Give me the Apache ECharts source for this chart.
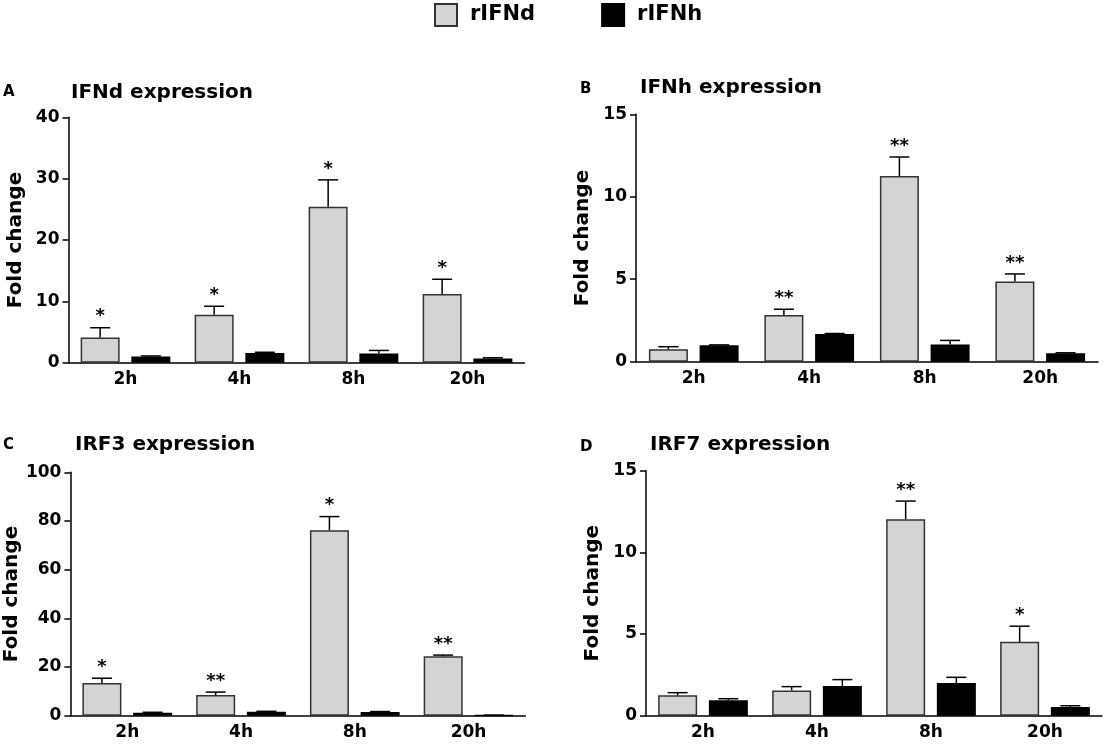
<!DOCTYPE html>
<html>
<head>
<meta charset="utf-8">
<script src="https://cdn.jsdelivr.net/npm/echarts@6/dist/echarts.min.js"></script>
<style>
  html, body { margin: 0; padding: 0; background: #fff; }
  #main { width: 1106px; height: 745px; }
</style>
</head>
<body>
<div id="main"></div>
<script>
// time points
var hours = ['2h', '4h', '8h', '20h'];

// A - IFNd
var ifnd_d = [4.1, 7.8, 25.4, 11.2];
var ifnd_d_sem = [1.6, 1.4, 4.4, 2.4];
var ifnd_h = [1.0, 1.6, 1.5, 0.7];
var ifnd_h_sem = [0.1, 0.1, 0.5, 0.1];
var ifnd_star = ['*', '*', '*', '*'];

// B - IFNh
var ifnh_d = [0.75, 2.83, 11.26, 4.86];
var ifnh_d_sem = [0.16, 0.35, 1.15, 0.46];
var ifnh_h = [0.99, 1.68, 1.05, 0.51];
var ifnh_h_sem = [0.03, 0.03, 0.24, 0.03];
var ifnh_star = ['', '**', '**', '**'];

// C - IRF3
var irf3_d = [13.4, 8.5, 76.2, 24.4];
var irf3_d_sem = [2.0, 1.2, 5.6, 0.5];
var irf3_h = [1.2, 1.6, 1.5, 0.2];
var irf3_h_sem = [0.2, 0.2, 0.2, 0.05];
var irf3_star = ['*', '**', '*', '**'];

// D - IRF7
var irf7_d = [1.25, 1.55, 12.03, 4.52];
var irf7_d_sem = [0.16, 0.23, 1.11, 0.96];
var irf7_h = [0.94, 1.82, 2.0, 0.53];
var irf7_h_sem = [0.1, 0.39, 0.35, 0.08];
var irf7_star = ['', '', '**', '*'];

// y axis ranges
var yMax = [40, 15, 100, 15];
var yStep = [10, 5, 20, 5];

var FONT = 'DejaVu Sans, Verdana, sans-serif';
var BAR_W = 39;
var GAP = 0.3;
var HALF = BAR_W * (1 + GAP) / 2; // 类目中心到柱中心的距离

var chart = echarts.init(document.getElementById('main'));

var grids = [
    {left: 68.5, top: 117.3, width: 456, height: 245.4},
    {left: 636, top: 114.3, width: 462, height: 247.4},
    {left: 70.4, top: 472.3, width: 455, height: 243.4},
    {left: 646, top: 470.7, width: 456, height: 245}
];
grids.forEach(function (g) { g.outerBoundsMode = 'none'; g.containLabel = false; });

var xAxes = [], yAxes = [];
for (var i = 0; i < 4; i++) {
    xAxes.push({
        type: 'category', gridIndex: i, data: hours,
        axisLine: {lineStyle: {color: '#000', width: 1.5}},
        axisTick: {alignWithLabel: true, length: 5, lineStyle: {color: '#000', width: 1.5}},
        axisLabel: {color: '#000', fontFamily: FONT, fontWeight: 'bold', fontSize: 17, margin: 8}
    });
    yAxes.push({
        type: 'value', gridIndex: i, min: 0, max: yMax[i], interval: yStep[i],
        name: 'Fold change', nameLocation: 'middle', nameRotate: 90, nameGap: 43,
        nameTextStyle: {color: '#000', fontFamily: FONT, fontWeight: 'bold', fontSize: 20},
        splitLine: {show: false},
        axisLine: {show: true, lineStyle: {color: '#000', width: 1.5}},
        axisTick: {show: true, length: 6, lineStyle: {color: '#000', width: 1.5}},
        axisLabel: {color: '#000', fontFamily: FONT, fontWeight: 'bold', fontSize: 17, margin: 9}
    });
}

function barSeries(name, gi, vals) {
    var dark = name == 'rIFNh';
    return {
        name: name, type: 'bar', xAxisIndex: gi, yAxisIndex: gi,
        data: vals, barWidth: BAR_W, barGap: (GAP * 100) + '%',
        itemStyle: {color: dark ? '#000' : '#d4d4d4', borderColor: dark ? '#000' : '#333', borderWidth: 1.5},
        emphasis: {disabled: true}
    };
}

//误差线 + 显著性星号
function errSeries(gi, vals, sems, stars, offset) {
    return {
        type: 'custom', xAxisIndex: gi, yAxisIndex: gi, z: 5,
        data: vals.map(function (v, k) { return [k, v, v + sems[k]]; }),
        renderItem: function (params, api) {
            var base = api.coord([api.value(0), api.value(1)]);
            var top = api.coord([api.value(0), api.value(2)]);
            var x = base[0] + offset;
            var kids = [
                {type: 'line', shape: {x1: x, y1: base[1], x2: x, y2: top[1]}, style: {stroke: '#000', lineWidth: 1.5}},
                {type: 'line', shape: {x1: x - 10, y1: top[1], x2: x + 10, y2: top[1]}, style: {stroke: '#000', lineWidth: 1.5}}
            ];
            var s = stars ? stars[params.dataIndex] : '';
            if (s) {
                kids.push({type: 'text', x: x, y: top[1] - 2, style: {
                    text: s, fill: '#000', font: 'bold 18px ' + FONT, align: 'center', verticalAlign: 'bottom'
                }});
            }
            return {type: 'group', children: kids};
        }
    };
}

var panels = [
    [ifnd_d, ifnd_d_sem, ifnd_h, ifnd_h_sem, ifnd_star],
    [ifnh_d, ifnh_d_sem, ifnh_h, ifnh_h_sem, ifnh_star],
    [irf3_d, irf3_d_sem, irf3_h, irf3_h_sem, irf3_star],
    [irf7_d, irf7_d_sem, irf7_h, irf7_h_sem, irf7_star]
];
var series = [];
panels.forEach(function (p, gi) {
    series.push(barSeries('rIFNd', gi, p[0]));
    series.push(barSeries('rIFNh', gi, p[2]));
    series.push(errSeries(gi, p[0], p[1], p[4], -HALF));
    series.push(errSeries(gi, p[2], p[3], null, HALF));
});

var letters = ['A', 'B', 'C', 'D'];
var names = ['IFNd expression', 'IFNh expression', 'IRF3 expression', 'IRF7 expression'];
var letterPos = [[3, 85], [580, 82], [3, 438], [580, 440]];
var namePos = [[71, 83], [640, 78], [75, 435], [650, 435]];
var titles = [];
for (var i = 0; i < 4; i++) {
    titles.push({text: letters[i], left: letterPos[i][0], top: letterPos[i][1], padding: 0,
        textStyle: {color: '#000', fontFamily: FONT, fontWeight: 'bold', fontSize: 15}});
    titles.push({text: names[i], left: namePos[i][0], top: namePos[i][1], padding: 0,
        textStyle: {color: '#000', fontFamily: FONT, fontWeight: 'bold', fontSize: 20}});
}

var option = {
    animation: false,
    title: titles,
    legend: {
        data: ['rIFNd', 'rIFNh'], left: 434, top: 3, padding: 0,
        itemWidth: 22, itemHeight: 22, itemGap: 66, icon: 'rect',
        textStyle: {color: '#000', fontFamily: FONT, fontWeight: 'bold', fontSize: 21, padding: [0, 0, 0, 8]}
    },
    grid: grids,
    xAxis: xAxes,
    yAxis: yAxes,
    series: series
};
chart.setOption(option);
</script>
</body>
</html>
